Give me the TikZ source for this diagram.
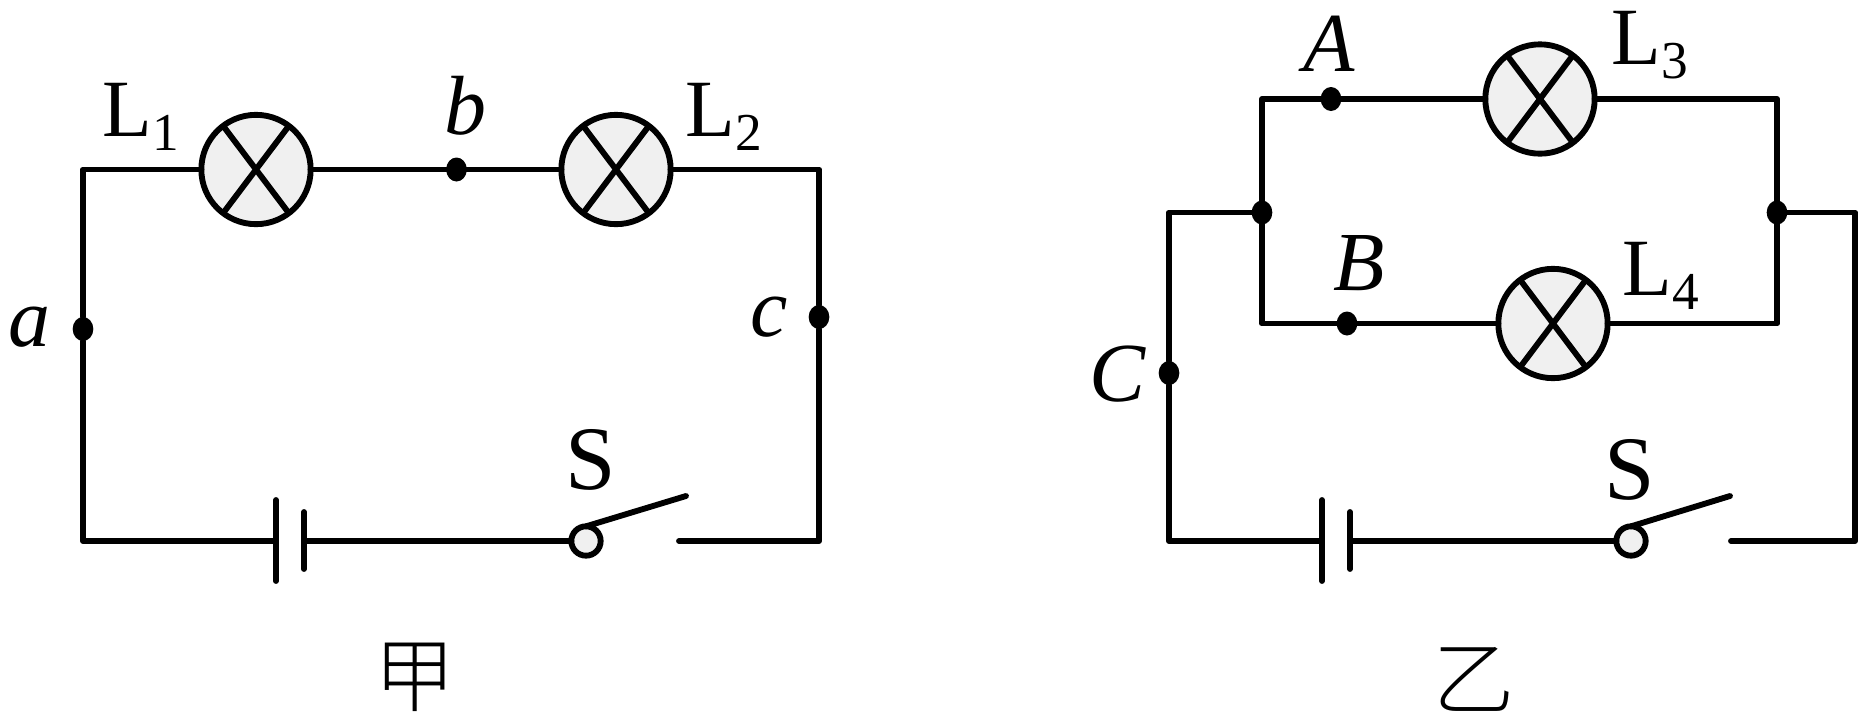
\documentclass[tikz,border=0pt]{standalone}
\usepackage{fontspec}
\usetikzlibrary{shapes.geometric}
\setmainfont{Liberation Serif}
\newfontfamily\cjkfont{Noto Sans CJK SC Light}
\newcommand{\subnum}[1]{\raisebox{-0.17em}{\fontsize{40}{40}\selectfont #1}}
\tikzset{
  wire/.style={line width=4.4pt,line cap=round,line join=round},
  lampnode/.style={circle,draw,line width=4.4pt,fill=black!6,minimum size=82pt,inner sep=0pt,outer sep=0pt},
  dotnode/.style={ellipse,fill=black,minimum width=15.5pt,minimum height=18pt,inner sep=0pt,outer sep=0pt},
  termnode/.style={circle,draw,line width=4.4pt,fill=black!6,minimum size=22pt,inner sep=0pt,outer sep=0pt},
  lab/.style={inner sep=0pt,font=\fontsize{61}{61}\selectfont},
  slab/.style={inner sep=0pt,font=\fontsize{68}{68}\selectfont},
  ilab/.style={inner sep=0pt,font=\fontsize{63}{63}\selectfont\itshape},
  hanzi/.style={inner sep=0pt,font=\fontsize{61}{61}\selectfont\cjkfont},
}
\newcommand{\crosslamp}[1]{%
  \draw[wire,line cap=butt] (#1.127)--(#1.-53);
  \draw[wire,line cap=butt] (#1.53)--(#1.-127);}
\begin{document}
\begin{tikzpicture}[x=0.75pt,y=-0.75pt]
\useasboundingbox (0,0) rectangle (1868,722);
% --- circuit jia
\coordinate (jtl) at (83,169.5);
\coordinate (jtr) at (819,169.5);
\coordinate (jbl) at (83,541);
\coordinate (jbr) at (819,541);
\coordinate (jst) at (679,541);
\coordinate (jbe) at (686,496);
\coordinate (jp1t) at (276,500);
\coordinate (jp1b) at (276,581);
\coordinate (jp1m) at (276,541);
\coordinate (jp2t) at (304,512);
\coordinate (jp2b) at (304,569);
\coordinate (jp2m) at (304,541);
\node[lampnode] (l1) at (256,169.5) {};
\node[lampnode] (l2) at (616,169.5) {};
\node[termnode] (js) at (586,541) {};
\node[dotnode] (db) at (456.5,169.5) {};
\node[dotnode] (da) at (83,329) {};
\node[dotnode] (dc) at (819,317) {};
\draw[wire] (l1.west)--(jtl)--(da)--(jbl)--(jp1m);
\draw[wire] (l1.east)--(db)--(l2.west);
\draw[wire] (l2.east)--(jtr)--(dc)--(jbr)--(jst);
\draw[wire] (jp1t)--(jp1b);
\draw[wire] (jp2t)--(jp2b);
\draw[wire] (jp2m)--(js.west);
\draw[wire] (js.north)--(jbe);
\crosslamp{l1}
\crosslamp{l2}
\node[lab] (tl1) at (141,117) {L\subnum{1}};
\node[lab] (tl2) at (724,117) {L\subnum{2}};
\node[ilab] (ta) at (29,327) {a};
\node[ilab] (tb) at (465,106) {b};
\node[ilab] (tc) at (769,317) {c};
\node[slab] (ts1) at (591,460) {S};
\node[hanzi] (tj) at (415,677) {甲};
% --- circuit yi
\coordinate (yol) at (1169,212.5);
\coordinate (yobl) at (1169,541);
\coordinate (yor) at (1855,212.5);
\coordinate (yobr) at (1855,541);
\coordinate (yst) at (1731,541);
\coordinate (ybe) at (1730,496);
\coordinate (yitl) at (1262,99);
\coordinate (yibl) at (1262,323.5);
\coordinate (yitr) at (1777,99);
\coordinate (yibr) at (1777,323.5);
\coordinate (yp1t) at (1322,500);
\coordinate (yp1b) at (1322,581);
\coordinate (yp1m) at (1322,541);
\coordinate (yp2t) at (1350,512);
\coordinate (yp2b) at (1350,569);
\coordinate (yp2m) at (1350,541);
\node[lampnode] (l3) at (1540,99) {};
\node[lampnode] (l4) at (1553,323.5) {};
\node[termnode] (ys) at (1631,541) {};
\node[dotnode] (dA) at (1331,99) {};
\node[dotnode] (dB) at (1347,323.5) {};
\node[dotnode] (dC) at (1169,373) {};
\node[dotnode] (dl) at (1262,212.5) {};
\node[dotnode] (dr) at (1777,212.5) {};
\draw[wire] (dl)--(yitl)--(dA)--(l3.west);
\draw[wire] (l3.east)--(yitr)--(dr);
\draw[wire] (dl)--(yibl)--(dB)--(l4.west);
\draw[wire] (l4.east)--(yibr)--(dr);
\draw[wire] (dl)--(yol)--(dC)--(yobl)--(yp1m);
\draw[wire] (dr)--(yor)--(yobr)--(yst);
\draw[wire] (yp1t)--(yp1b);
\draw[wire] (yp2t)--(yp2b);
\draw[wire] (yp2m)--(ys.west);
\draw[wire] (ys.north)--(ybe);
\crosslamp{l3}
\crosslamp{l4}
\node[lab] (tl3) at (1650,45) {L\subnum{3}};
\node[lab] (tl4) at (1661,276) {L\subnum{4}};
\node[ilab] (tA) at (1329,44) {A};
\node[ilab] (tB) at (1359,263) {B};
\node[ilab] (tC) at (1118,374) {C};
\node[slab] (ts2) at (1630,470) {S};
\node[hanzi] (ty) at (1474,679) {乙};
\end{tikzpicture}
\end{document}
